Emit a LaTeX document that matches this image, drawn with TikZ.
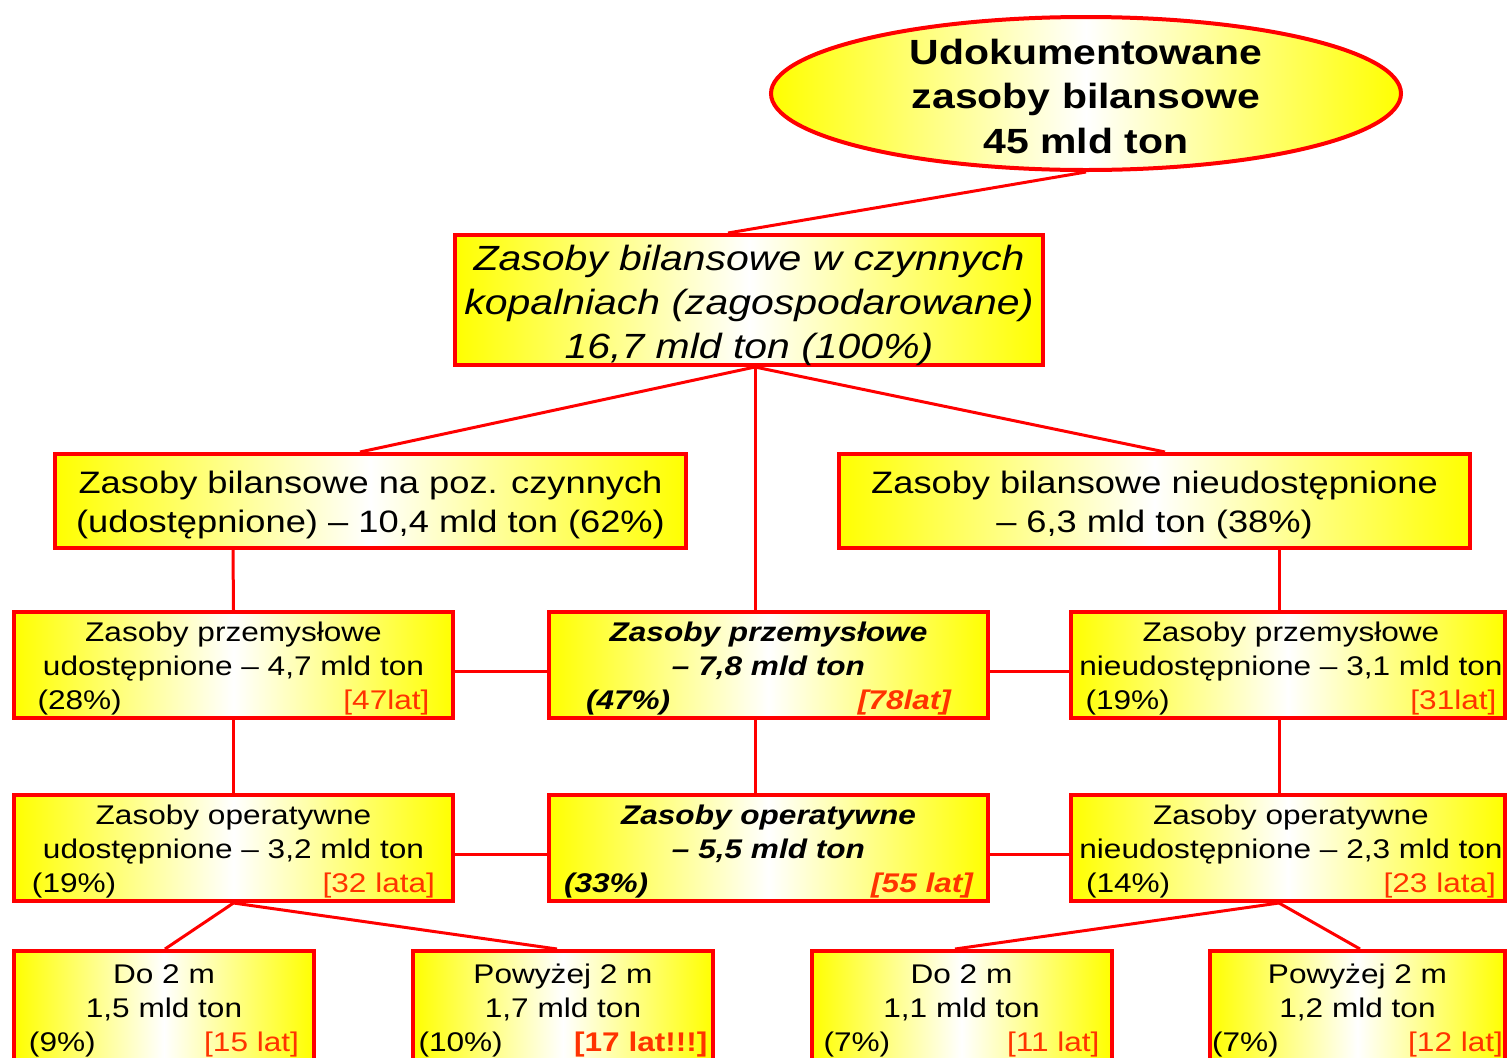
\documentclass[tikz,border=0pt]{standalone}
\usepackage{fontspec}
\setmainfont{Liberation Sans}[FakeStretch=1.17]
\usetikzlibrary{shapes.geometric}
\definecolor{lat}{RGB}{255,51,0}
\definecolor{brd}{RGB}{255,0,0}
\definecolor{yel}{RGB}{255,255,0}
\tikzset{
  grad/.style={left color=yel, right color=yel, middle color=white},
  box/.style={draw=brd, line width=4pt, grad, rectangle, inner sep=0pt},
  txt/.style={inner sep=0pt, align=center, text=black},
  conn/.style={draw=brd, line width=3pt},
  fbig/.style={txt, font=\itshape\fontsize{35}{44}\selectfont},
  fmid/.style={txt, font=\fontsize{31}{39}\selectfont},
  fsm/.style={txt, font=\fontsize{27}{34}\selectfont},
  fsmb/.style={txt, font=\bfseries\itshape\fontsize{27}{34}\selectfont},
  small/.style={box, minimum width=439pt, minimum height=106pt},
  smallr/.style={box, minimum width=434pt, minimum height=106pt},
  bottom/.style={box, minimum width=300pt, minimum height=112pt},
}
\newcommand{\lt}[1]{{\color{lat}#1}}
\newcommand{\lr}[3]{\makebox[#1]{#2\hfill#3}}
\begin{document}
\begin{tikzpicture}[x=1pt,y=-1pt]
\useasboundingbox (0,0) rectangle (1508,1058);
\clip (0,0) rectangle (1508,1058);
% top ellipse
\node[ellipse, draw=brd, line width=4pt, grad, minimum width=630pt, minimum height=153pt, inner sep=0pt] (top) at (1086,93.5) {};
\node[txt, font=\bfseries\fontsize{35}{44.5}\selectfont] (top-t) at ([yshift=-2.5pt]top.center) {Udokumentowane\\zasoby bilansowe\\45 mld ton};
% level 2
\node[box, minimum width=588pt, minimum height=130pt] (b2) at (749,300) {};
\node[fbig] (b2-t) at ([yshift=-5pt]b2.center) {Zasoby bilansowe w czynnych\\kopalniach (zagospodarowane)\\16,7 mld ton (100\%)};
% level 3
\node[box, minimum width=631pt, minimum height=94pt] (l3l) at (370.5,501) {};
\node[fmid] (l3l-t) at ([yshift=-4pt]l3l.center) {Zasoby bilansowe na poz. czynnych\\(udostępnione) – 10,4 mld ton (62\%)};
\node[box, minimum width=631pt, minimum height=94pt] (l3r) at (1154.5,501) {};
\node[fmid] (l3r-t) at ([yshift=-4pt]l3r.center) {Zasoby bilansowe nieudostępnione\\– 6,3 mld ton (38\%)};
% level 4
\node[small] (l4l) at (233.5,665) {};
\node[fsm] (l4l-t) at ([yshift=-4pt]l4l.center) {Zasoby przemysłowe\\udostępnione – 4,7 mld ton\\\lr{392pt}{(28\%)}{\lt{[47lat]}}};
\node[small] (l4m) at (768.5,665) {};
\node[fsmb] (l4m-t) at ([yshift=-4pt]l4m.center) {Zasoby przemysłowe\\– 7,8 mld ton\\\lr{365pt}{(47\%)}{\lt{[78lat]}}};
\node[smallr] (l4r) at (1288,665) {};
\node[fsm] (l4r-t) at ([xshift=3pt,yshift=-4pt]l4r.center) {Zasoby przemysłowe\\nieudostępnione – 3,1 mld ton\\\lr{411pt}{(19\%)}{\lt{[31lat]}}};
% level 5
\node[small] (l5l) at (233.5,848) {};
\node[fsm] (l5l-t) at ([yshift=-4pt]l5l.center) {Zasoby operatywne\\udostępnione – 3,2 mld ton\\\lr{403pt}{(19\%)}{\lt{[32 lata]}}};
\node[small] (l5m) at (768.5,848) {};
\node[fsmb] (l5m-t) at ([yshift=-4pt]l5m.center) {Zasoby operatywne\\– 5,5 mld ton\\\lr{409pt}{(33\%)}{\lt{[55 lat]}}};
\node[smallr] (l5r) at (1288,848) {};
\node[fsm] (l5r-t) at ([xshift=3pt,yshift=-4pt]l5r.center) {Zasoby operatywne\\nieudostępnione – 2,3 mld ton\\\lr{410pt}{(14\%)}{\lt{[23 lata]}}};
% level 6
\node[bottom] (l6a) at (164,1007) {};
\node[fsm] (l6a-t) at ([yshift=-4pt]l6a.center) {Do 2 m\\1,5 mld ton\\\lr{270pt}{(9\%)}{\lt{[15 lat]}}};
\node[bottom] (l6b) at (563,1007) {};
\node[fsm] (l6b-t) at ([yshift=-4pt]l6b.center) {Powyżej 2 m\\1,7 mld ton\\\lr{289pt}{(10\%)}{\lt{\bfseries[17 lat!!!]}}};
\node[bottom] (l6c) at (961.5,1007) {};
\node[fsm] (l6c-t) at ([yshift=-4pt]l6c.center) {Do 2 m\\1,1 mld ton\\\lr{276pt}{(7\%)}{\lt{[11 lat]}}};
\node[bottom, minimum width=295pt] (l6d) at (1357.5,1007) {};
\node[fsm] (l6d-t) at ([yshift=-4pt]l6d.center) {Powyżej 2 m\\1,2 mld ton\\\lr{291pt}{(7\%)}{\lt{[12 lat]}}};
% connectors
\draw[conn] (top.south) -- ([xshift=-21pt]b2.north);
\draw[conn] ([xshift=6pt]b2.south) -- ([xshift=-10.5pt]l3l.north);
\draw[conn] ([xshift=6pt]b2.south) -- ([xshift=10.5pt]l3r.north);
\draw[conn] ([xshift=6pt]b2.south) -- ([xshift=-13.5pt]l4m.north);
\draw[conn] ([xshift=-137.5pt]l3l.south) -- (l4l.north);
\draw[conn] ([xshift=124.5pt]l3r.south) -- ([xshift=-9pt]l4r.north);
\draw[conn] ([yshift=-6pt]l4l.east) -- ([yshift=-6pt]l4m.west);
\draw[conn] ([yshift=-6pt]l4m.east) -- ([yshift=-6pt]l4r.west);
\draw[conn] (l4l.south) -- (l5l.north);
\draw[conn] ([xshift=-13.5pt]l4m.south) -- ([xshift=-13.5pt]l5m.north);
\draw[conn] ([xshift=-9pt]l4r.south) -- ([xshift=-9pt]l5r.north);
\draw[conn] ([yshift=-6pt]l5l.east) -- ([yshift=-6pt]l5m.west);
\draw[conn] ([yshift=-6pt]l5m.east) -- ([yshift=-6pt]l5r.west);
\draw[conn] (l5l.south) -- ([xshift=1pt]l6a.north);
\draw[conn] (l5l.south) -- ([xshift=-6pt]l6b.north);
\draw[conn] ([xshift=-9pt]l5r.south) -- ([xshift=-6.5pt]l6c.north);
\draw[conn] ([xshift=-9pt]l5r.south) -- ([xshift=2.5pt]l6d.north);
\end{tikzpicture}
\end{document}
